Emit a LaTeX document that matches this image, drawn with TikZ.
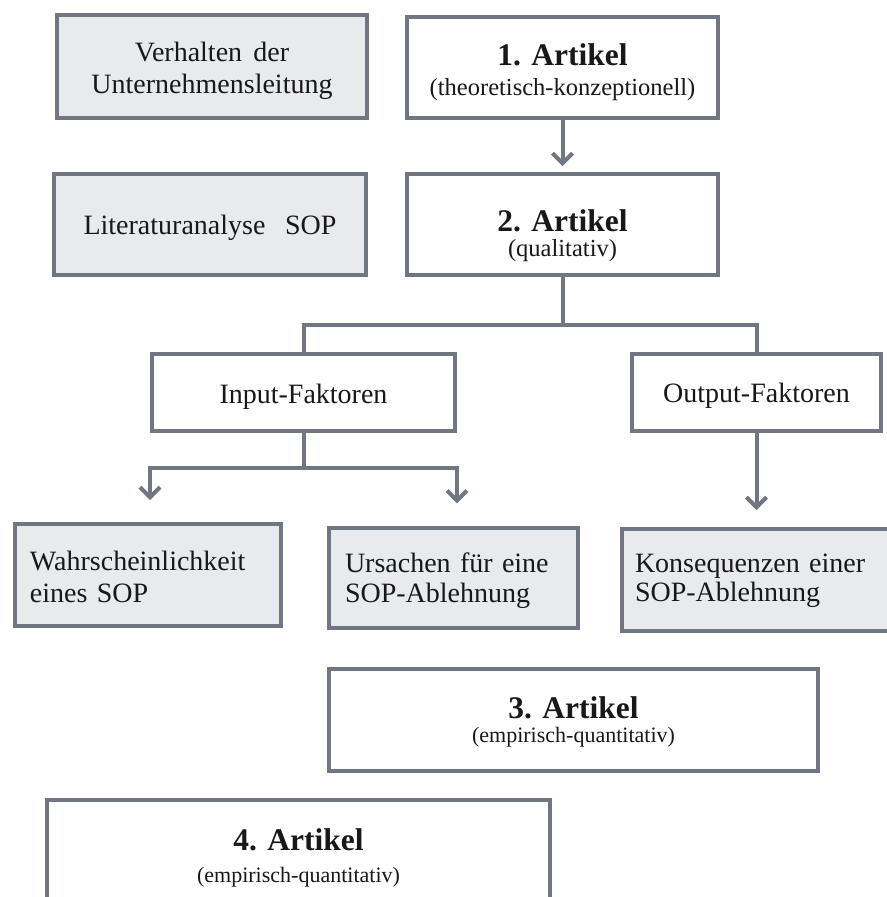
\documentclass[tikz,border=0pt]{standalone}
\usepackage{fontspec}
\setmainfont{Liberation Serif}
\usetikzlibrary{arrows.meta}

\definecolor{edge}{RGB}{112,119,131}
\definecolor{panel}{RGB}{233,234,238}
\definecolor{ink}{RGB}{24,24,24}

% font sizes (1 px = 0.75 pt)
\newcommand\dgHead{\fontsize{23.6}{26}\selectfont\bfseries}
\newcommand\dgNote{\fontsize{18.4}{20}\selectfont}
\newcommand\dgNoteS{\fontsize{16.5}{19}\selectfont}
\newcommand\dgLead[1]{\fontsize{21}{#1}\selectfont}

\begin{document}
\begin{tikzpicture}[x=0.75pt, y=-0.75pt,
  frame/.style={draw=edge, line width=3pt, rectangle, inner sep=0pt, text=ink},
  plainbox/.style={frame, fill=white, align=center},
  greybox/.style={frame, fill=panel},
  dims/.style 2 args={minimum width=#1, minimum height=#2},
  lift/.style 2 args={text height=#1, text depth=#2},
  link/.style={draw=edge, line width=3pt, line join=miter},
  arr/.style={link, -{Straight Barb[length=7.5pt, width=15pt]}}
]
\useasboundingbox (0,0) rectangle (887,897);
\clip (0,0) rectangle (887,897);
\fill[white] (0,0) rectangle (887,897);

% left column: topics
\node[greybox, align=center, dims={232.5pt}{77.25pt}, lift={45pt}{5.25pt}, font=\dgLead{24pt}]
  (verh) at (212,66.5) {Verhalten\hspace{0.4em}der\\Unternehmensleitung};
\node[greybox, align=center, dims={234pt}{75.75pt}, lift={30pt}{15.75pt}, font=\dgLead{24pt}]
  (lit) at (210,224.5) {Literaturanalyse\hspace{0.7em}SOP};

% articles 1 and 2
\node[plainbox, dims={233.25pt}{75.75pt}, lift={45pt}{3.75pt}, font=\dgLead{22.5pt}]
  (a1) at (562.5,67.5) {\dgHead 1. Artikel\\\dgNote (theoretisch-konzeptionell)};
\node[plainbox, dims={233.25pt}{75.75pt}, lift={50pt}{2.75pt}, font=\dgLead{18.5pt}]
  (a2) at (562.5,224.5) {\dgHead 2. Artikel\\\dgNote (qualitativ)};

% factor boxes
\node[plainbox, dims={227.25pt}{57.75pt}, lift={30pt}{14.25pt}, font=\dgLead{24pt}]
  (inp) at (303.5,392.5) {Input-Faktoren};
\node[plainbox, dims={186.75pt}{57.75pt}, lift={30pt}{15.75pt}, font=\dgLead{24pt}]
  (outp) at (756.5,392.5) {Output-Faktoren};

% results (left-aligned text, first baseline as reference)
\node[greybox, align=left, text width=177pt, dims={199.5pt}{76.5pt}, lift={30pt}{37.5pt}, font=\dgLead{24pt}]
  (wahr) at (148,575) {Wahrscheinlichkeit\\eines SOP};
\node[greybox, align=left, text width=162.75pt, dims={186.75pt}{75pt}, lift={30pt}{39pt}, font=\dgLead{22.5pt}]
  (urs) at (453.5,578) {\makebox[162.75pt][s]{Ursachen für eine}\\SOP-Ablehnung};
\node[greybox, align=left, text width=181.5pt, dims={201pt}{76.5pt}, lift={30pt}{42pt}, font=\dgLead{21.75pt}]
  (kons) at (756,580) {Konsequenzen einer\\SOP-Ablehnung};

% articles 3 and 4
\node[plainbox, dims={366.75pt}{76.5pt}, lift={45pt}{12pt}, font=\dgLead{18pt}]
  (a3) at (573.5,720) {\dgHead 3. Artikel\\\dgNoteS (empirisch-quantitativ)};
\node[plainbox, dims={377.25pt}{84pt}, lift={45pt}{6pt}, font=\dgLead{24pt}]
  (a4) at (298.5,856) {\dgHead 4. Artikel\\\dgNoteS (empirisch-quantitativ)};

% connectors
\coordinate (hub) at (562.5,325);
\coordinate (fork) at (303.5,468);

\draw[arr, shorten >=4.5pt] (a1.south) -- (a2.north);

\draw[link] (a2.south) -- (hub);
\draw[link] (inp.north) |- (outp.north |- hub) -- (outp.north);

\draw[link] (inp.south) -- (fork);
\draw[arr, shorten >=16.5pt] (fork) -| (inp.west |- wahr.north);
\draw[arr, shorten >=17pt] (fork) -| (inp.east |- urs.north);

\draw[arr, shorten >=12.75pt] (outp.south) -- (outp.south |- kons.north);
\end{tikzpicture}
\end{document}
